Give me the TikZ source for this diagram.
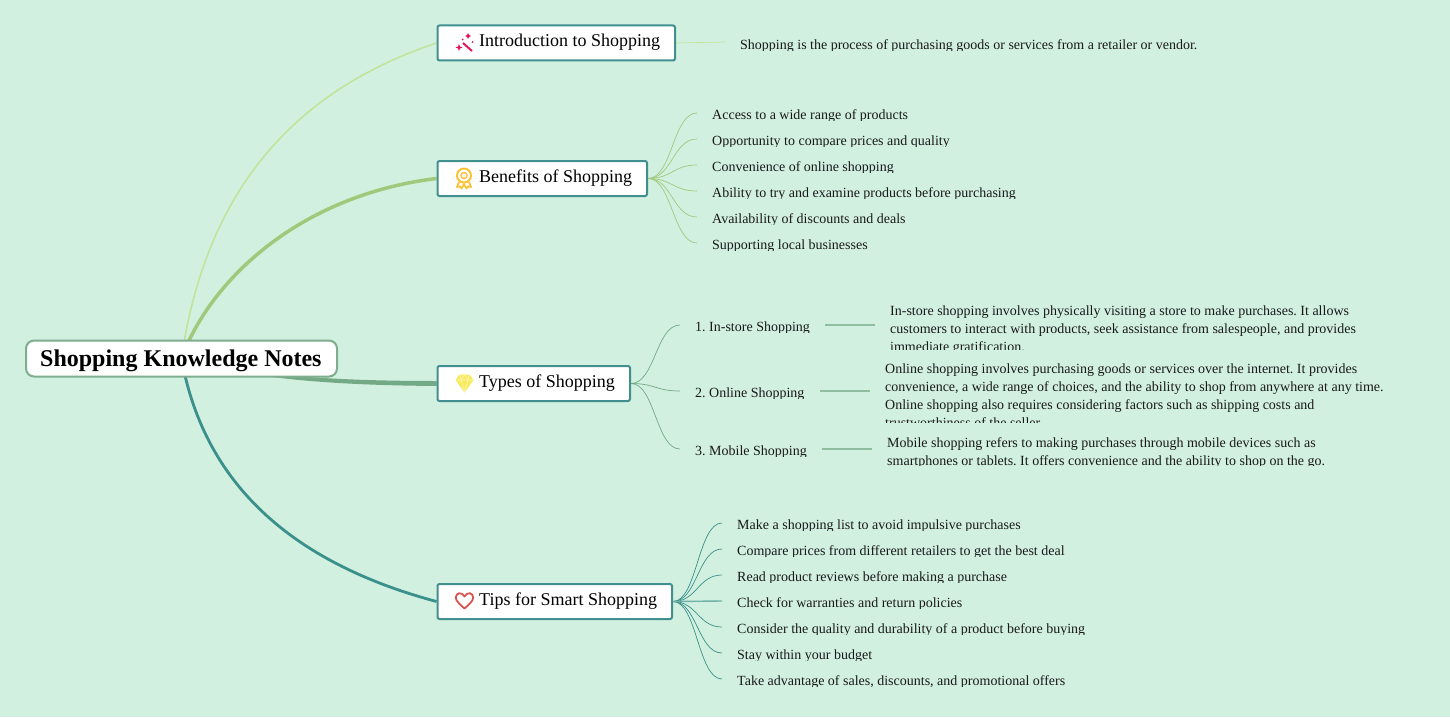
\documentclass[tikz,border=0pt]{standalone}
\usepackage{fontspec}
\setmainfont{Liberation Serif}
\frenchspacing
\usetikzlibrary{calc}
\pgfdeclarelayer{bg}\pgfdeclarelayer{edges}
\pgfsetlayers{bg,edges,main}
\definecolor{pagebg}{HTML}{D2F0E0}
\definecolor{cA}{HTML}{BFE49A}
\definecolor{cB}{HTML}{A0C97C}
\definecolor{cC}{HTML}{74A985}
\definecolor{cD}{HTML}{3A908A}
\definecolor{bline}{HTML}{41908F}
\definecolor{rline}{HTML}{7FAE8E}
\definecolor{wand}{HTML}{E0195F}
\definecolor{medal}{HTML}{FBC23A}
\definecolor{gem}{HTML}{F8EA5A}
\definecolor{heart}{HTML}{D9544E}
\tikzset{
  x=1pt,y=-1pt,
  rootbox/.style={draw=rline,line width=2pt,fill=white,rounded corners=8pt,minimum width=311pt,minimum height=36pt,inner sep=0pt,anchor=north west},
  branchbox/.style={draw=bline,line width=2pt,fill=white,rounded corners=2pt,minimum height=35pt,inner sep=0pt,anchor=north west},
  branchtext/.style={font=\fontsize{18}{22}\selectfont,inner sep=0pt,anchor=base west},
  leaftext/.style={font=\fontsize{14}{18}\selectfont,inner sep=0pt,anchor=base west,text=black!90},
  paratext/.style={font=\fontsize{14}{18}\selectfont,inner sep=0pt,anchor=north west,align=left,text=black!90},
  thinlink/.style={line width=.7pt},
  stublink/.style={line width=1.4pt},
}
% \leafitem{name}{x}{y centre}{text}: one clipped line with a connector end 15 left of it
\newcommand{\leafitem}[4]{%
  \coordinate (#1e) at (#2-15,#3-1);
  \begin{scope}
    \clip (#2-2,#3-10) rectangle (#2+600,#3+6.5);
    \node[leaftext] (#1) at (#2,#3+5) {#4};
  \end{scope}}
\newcommand{\sprout}[3]{\draw[#1,thinlink] (#2) to[out=0,in=180,out distance=24pt,in distance=24pt] (#3);}
\begin{document}
\begin{tikzpicture}
\useasboundingbox (0,0) rectangle (1450,717);
\begin{pgfonlayer}{bg}
\fill[pagebg] (0,0) rectangle (1450,717);
\end{pgfonlayer}

% nodes
\node[rootbox] (root) at (25,339.5) {};
\node[font=\fontsize{24}{28}\bfseries\selectfont,inner sep=0pt,anchor=base west] (roottext) at (40,366) {Shopping Knowledge Notes};

\node[branchbox,minimum width=237.5pt] (intro) at (436.5,24.5) {};
\node[branchtext] (introtext) at (479,47) {Introduction to Shopping};
\node[branchbox,minimum width=209.5pt] (bene) at (436.5,160) {};
\node[branchtext] (benetext) at (479,182) {Benefits of Shopping};
\node[branchbox,minimum width=192.5pt] (types) at (436.5,365) {};
\node[branchtext] (typestext) at (479,387) {Types of Shopping};
\node[branchbox,minimum width=234.5pt] (tips) at (436.5,583) {};
\node[branchtext] (tipstext) at (479,605) {Tips for Smart Shopping};

% intro leaf
\leafitem{i1}{740}{44}{Shopping is the process of purchasing goods or services from a retailer or vendor.}
\coordinate (i1s) at (726,42);

% benefits leaves
\leafitem{b1}{712}{114}{Access to a wide range of products}
\leafitem{b2}{712}{140}{Opportunity to compare prices and quality}
\leafitem{b3}{712}{166}{Convenience of online shopping}
\leafitem{b4}{712}{192}{Ability to try and examine products before purchasing}
\leafitem{b5}{712}{218}{Availability of discounts and deals}
\leafitem{b6}{712}{244}{Supporting local businesses}

% types leaves
\leafitem{t1}{695}{326}{1. In-store Shopping}
\leafitem{t2}{695}{392}{2. Online Shopping}
\leafitem{t3}{695}{450}{3. Mobile Shopping}
\coordinate (s1a) at (825,325);\coordinate (s1b) at (875,325);
\coordinate (s2a) at (820,391);\coordinate (s2b) at (870,391);
\coordinate (s3a) at (822,449);\coordinate (s3b) at (872,449);

\begin{scope}
\clip (880,300) rectangle (1420,349.5);
\node[paratext] (p1) at (890,305.5) {In-store shopping involves physically visiting a store to make purchases. It allows\\customers to interact with products, seek assistance from salespeople, and provides\\immediate gratification.};
\end{scope}
\begin{scope}
\clip (880,358) rectangle (1420,422.5);
\node[paratext] (p2) at (885,363.5) {Online shopping involves purchasing goods or services over the internet. It provides\\convenience, a wide range of choices, and the ability to shop from anywhere at any time.\\Online shopping also requires considering factors such as shipping costs and\\trustworthiness of the seller.};
\end{scope}
\begin{scope}
\clip (880,432) rectangle (1420,465.5);
\node[paratext] (p3) at (887,437.5) {Mobile shopping refers to making purchases through mobile devices such as\\smartphones or tablets. It offers convenience and the ability to shop on the go.};
\end{scope}

% tips leaves
\leafitem{k1}{737}{524}{Make a shopping list to avoid impulsive purchases}
\leafitem{k2}{737}{550}{Compare prices from different retailers to get the best deal}
\leafitem{k3}{737}{576}{Read product reviews before making a purchase}
\leafitem{k4}{737}{602}{Check for warranties and return policies}
\leafitem{k5}{737}{628}{Consider the quality and durability of a product before buying}
\leafitem{k6}{737}{654}{Stay within your budget}
\leafitem{k7}{737}{680}{Take advantage of sales, discounts, and promotional offers}

% connectors
\begin{pgfonlayer}{edges}
\draw[cA,line width=1.6pt] (root.center) .. controls (205,195) and (290,92) .. (intro.west);
\draw[cB,line width=3.5pt] (root.center) .. controls (210,280) and (300,195) .. (bene.west);
\fill[cC] (root.center) .. controls (250,375) and (330,381) .. ([yshift=2.5pt]types.west)
  -- ([yshift=-2.5pt]types.west) .. controls (330,385) and (250,379) .. (root.center) -- cycle;
\draw[cD,line width=2.8pt] (root.center) .. controls (205,490) and (300,565) .. (tips.west);

\draw[cA,thinlink] (intro.east) -- (i1s);
\foreach \n in {b1,b2,b3,b4,b5,b6}{\sprout{cB}{bene.east}{\n e}}
\foreach \n in {t1,t2,t3}{\sprout{cC}{types.east}{\n e}}
\foreach \n in {k1,k2,k3,k5,k6,k7}{\sprout{cD}{tips.east}{\n e}}
\draw[cD!65!pagebg,stublink] (tips.east) -- (k4e);
\draw[cC!70!pagebg,stublink] (s1a) -- (s1b);
\draw[cC!70!pagebg,stublink] (s2a) -- (s2b);
\draw[cC!70!pagebg,stublink] (s3a) -- (s3b);
\end{pgfonlayer}

% icons
\begin{scope}[wand]
\draw[line width=2pt] (463,43) -- (472,51);
\fill (459,44) -- (460,46.5) -- (462.5,47.5) -- (460,48.5) -- (459,51) -- (458,48.5) -- (455.5,47.5) -- (458,46.5) -- cycle;
\fill (468,33) -- (469,35) -- (471,36) -- (469,37) -- (468,39) -- (467,37) -- (465,36) -- (467,35) -- cycle;
\fill (472.5,42) circle (1);
\fill (462.5,39.5) circle (1);
\end{scope}
\begin{scope}[medal,line join=round]
\draw[line width=2pt] (464,175.5) circle (7);
\draw[line width=1.5pt] (464,175.5) circle (3);
\draw[line width=1.8pt] (459,182) -- (457,187) -- (460,186.5) -- (461.5,188.5) -- (464,184) -- (466.5,188.5) -- (468,186.5) -- (471,187) -- (469,182);
\end{scope}
\fill[gem] (459.5,374.5) -- (469.5,374.5) -- (473.5,380) -- (464.5,392.5) -- (455.5,380) -- cycle;
\draw[white!55!gem,line width=.6pt] (456,380) -- (473,380) (460,375) -- (461,380) -- (464.5,391.5) -- (468,380) -- (469,375) (461,380) -- (464.5,375) -- (468,380);
\draw[heart,line width=1.8pt,line join=round] (464.5,608.5) .. controls (460,604.5) and (455.8,601) .. (455.8,597.5)
  .. controls (455.8,592.5) and (462,591.5) .. (464.5,596.5)
  .. controls (467,591.5) and (473.2,592.5) .. (473.2,597.5)
  .. controls (473.2,601) and (469,604.5) .. (464.5,608.5) -- cycle;
\end{tikzpicture}
\end{document}
